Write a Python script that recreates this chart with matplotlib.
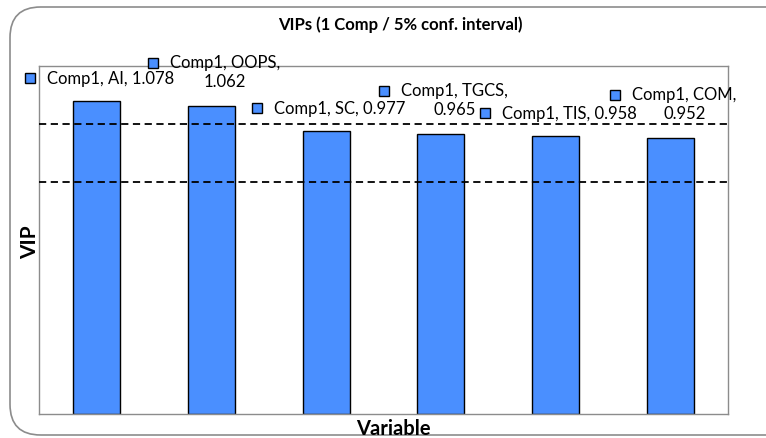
import matplotlib.pyplot as plt
from matplotlib.patches import FancyBboxPatch

# data
variables = ['AI', 'OOPS', 'SC', 'TGCS', 'TIS', 'COM']
vip = [1.078, 1.062, 0.977, 0.965, 0.958, 0.952]
wrapped = ['OOPS', 'TGCS', 'COM']   # labels Excel broke onto two lines
thresholds = [1.0, 0.8]

bar_color = '#4A8FFF'
plt.rcParams['font.family'] = ['Lato', 'DejaVu Sans']

fig = plt.figure(figsize=(7.66, 4.39), dpi=100)
ax = fig.add_axes([39 / 766, 1 - 415 / 439, 689 / 766, 348 / 439])

# rounded outer frame
frame = FancyBboxPatch((10 / 766, 3 / 439), 800 / 766, 428 / 439,
                       boxstyle='round,pad=0,rounding_size=0.04',
                       transform=fig.transFigure, fill=False,
                       edgecolor='#8c8c8c', linewidth=1.2, mutation_aspect=766 / 439)
fig.patches.append(frame)

x = range(len(variables))
ax.bar(x, vip, width=0.41, color=bar_color, edgecolor='black', linewidth=1.0, zorder=2)
for t in thresholds:
    ax.axhline(t, color='black', linestyle=(0, (4, 2.5)), linewidth=1.3, zorder=3)

ax.set_xlim(-0.5, len(variables) - 0.5)
ax.set_ylim(0, 1.2)
ax.set_xticks([])
ax.set_yticks([])
for s in ax.spines.values():
    s.set_color('#8c8c8c')
    s.set_linewidth(1.0)

fig.text(393 / 766, 1 - 429 / 439, 'Variable', ha='center', va='center',
         fontsize=14.5, fontweight='bold')
fig.text(30 / 766, 1 - 242 / 439, 'VIP', ha='center', va='center', rotation=90,
         fontsize=15, fontweight='bold')
fig.text(400 / 766, 1 - 25 / 439, 'VIPs (1 Comp / 5% conf. interval)', ha='center', va='center',
         fontsize=12, fontweight='bold')

# data labels with legend key, Excel style
texts = []
for i, (name, v) in enumerate(zip(variables, vip)):
    if name in wrapped:
        label = f'Comp1, {name},\n{v:.3f}'
        dy = 34.5
    else:
        label = f'Comp1, {name}, {v:.3f}'
        dy = 23
    txt = ax.annotate(label, xy=(i, v), xytext=(14 * 0.72, dy * 0.72), textcoords='offset points',
                      ha='center', va='center', fontsize=12, multialignment='center',
                      linespacing=1.2, annotation_clip=False, zorder=4)
    texts.append((txt, name in wrapped))

fig.canvas.draw()
inv = ax.transData.inverted()
for txt, multi in texts:
    bb = txt.get_window_extent()
    line_h = bb.height / 2 if multi else bb.height
    mx = bb.x0 - 17
    my = bb.y1 - line_h / 2
    dx, dy = inv.transform((mx, my))
    ax.plot([dx], [dy], marker='s', markersize=7, markerfacecolor=bar_color,
            markeredgecolor='black', markeredgewidth=1.0, clip_on=False, zorder=4)

fig.savefig('out.png', dpi=100)
